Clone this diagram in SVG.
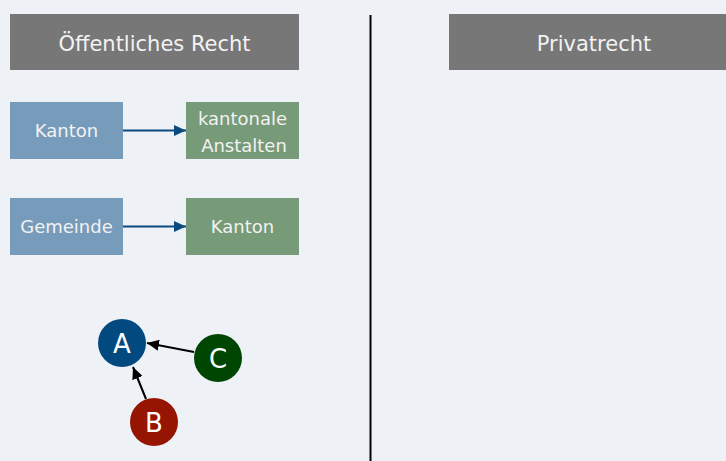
<svg xmlns="http://www.w3.org/2000/svg" width="726" height="461" viewBox="0 0 726 461">
<style>
.hdr{fill:#777778}
.blue{fill:#779bbb}
.green{fill:#779a78}
.t{font-family:"DejaVu Sans",Verdana,sans-serif;fill:#f2f2f2;text-anchor:middle}
.ht{font-size:21px}
.bt{font-size:18px}
.ct{font-size:26px;fill:#ffffff}
.conn{stroke:#0b4a80;stroke-width:2;fill:none}
.conk{stroke:#000;stroke-width:2;fill:none}
</style>
<defs>
<marker id="ab" viewBox="0 0 10 10" refX="10" refY="5" markerWidth="12" markerHeight="11" orient="auto" markerUnits="userSpaceOnUse" preserveAspectRatio="none"><path d="M0,0 L10,5 L0,10 z" fill="#0b4a80"/></marker>
<marker id="ak" viewBox="0 0 10 10" refX="10" refY="5" markerWidth="12" markerHeight="11" orient="auto" markerUnits="userSpaceOnUse" preserveAspectRatio="none"><path d="M0,0 L10,5 L0,10 z" fill="#000"/></marker>
</defs>
<rect width="726" height="461" fill="#eef2f7"/>
<line x1="370.5" y1="15" x2="370.5" y2="461" stroke="#000" stroke-width="2"/>
<g id="connectors">
<line class="conn" x1="123" y1="130.5" x2="186" y2="130.5" marker-end="url(#ab)"/>
<line class="conn" x1="123" y1="226.5" x2="186" y2="226.5" marker-end="url(#ab)"/>
<line class="conk" x1="194" y1="352" x2="147" y2="343" marker-end="url(#ak)"/>
<line class="conk" x1="146" y1="399" x2="133" y2="367" marker-end="url(#ak)"/>
</g>
<g id="hdr-oeff"><rect class="hdr" x="10" y="14" width="289" height="56"/><text class="t ht" x="154.5" y="51">Öffentliches Recht</text></g>
<g id="hdr-priv"><rect class="hdr" x="449" y="14" width="277" height="56"/><text class="t ht" x="594" y="51">Privatrecht</text></g>
<g id="kanton1"><rect class="blue" x="10" y="102" width="113" height="57"/><text class="t bt" x="66.5" y="137">Kanton</text></g>
<g id="anstalten"><rect class="green" x="186" y="102" width="113" height="57"/><text class="t bt" x="242.5" y="125">kantonale</text><text class="t bt" x="244" y="152">Anstalten</text></g>
<g id="gemeinde"><rect class="blue" x="10" y="198" width="113" height="57"/><text class="t bt" x="66.5" y="233">Gemeinde</text></g>
<g id="kanton2"><rect class="green" x="186" y="198" width="113" height="57"/><text class="t bt" x="242.5" y="233">Kanton</text></g>
<g id="nodeA"><circle cx="122" cy="343" r="24" fill="#02497f"/><text class="t ct" x="122" y="352.5">A</text></g>
<g id="nodeB"><circle cx="154" cy="422" r="24" fill="#961502"/><text class="t ct" x="154" y="431.5">B</text></g>
<g id="nodeC"><circle cx="218" cy="358" r="24" fill="#004603"/><text class="t ct" x="218" y="367.5">C</text></g>
</svg>
